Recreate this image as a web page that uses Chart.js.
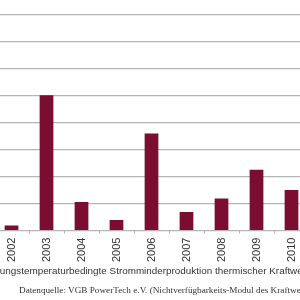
<!DOCTYPE html>
<html>
<head>
<meta charset="utf-8">
<script src="https://cdn.jsdelivr.net/npm/chart.js@4"></script>
<style>
  html, body { margin: 0; padding: 0; background: #fff; overflow: hidden; }
  body { width: 300px; height: 300px; position: relative; }
  #wrap { position: absolute; left: -6px; top: 0; width: 315px; height: 300px; }
  #caption {
    position: absolute; left: 0; top: 265px; white-space: nowrap; line-height: 12px;
    font-family: "Liberation Sans", Arial, sans-serif; font-size: 9.9px; color: #333;
  }
  #source {
    position: absolute; left: 19px; top: 285px; white-space: nowrap;
    font-family: "Liberation Serif", "DejaVu Serif", serif; font-size: 9.2px; color: #333;
  }
</style>
</head>
<body>
<div id="wrap"><canvas id="chart"></canvas></div>
<div id="caption"><span id="cut">Kühl</span>ungstemperaturbedingte Stromminderproduktion thermischer Kraftwerke</div>
<div id="source">Datenquelle: VGB PowerTech e.V. (Nichtverfügbarkeits-Modul des Kraftwerksinformationssystems)</div>
<script>
// Jahre und Minderproduktion (in Gitterschritten)
const years = ['2002', '2003', '2004', '2005', '2006', '2007', '2008', '2009', '2010'];
const values = [0.19, 5.02, 1.06, 0.39, 3.6, 0.69, 1.19, 2.26, 1.5];

const barColor = '#7b0d30';
const gridColor = '#b5b5b5';

// Bildunterschrift ist links abgeschnitten, wie im Original
const caption = document.getElementById('caption');
caption.style.left = -document.getElementById('cut').offsetWidth + 'px';

const ctx = document.getElementById('chart').getContext('2d');
new Chart(ctx, {
  type: 'bar',
  data: {
    labels: years,
    datasets: [{
      data: values,
      backgroundColor: barColor,
      borderWidth: 0,
      barPercentage: 0.8,
      categoryPercentage: 0.49
    }]
  },
  options: {
    responsive: true,
    maintainAspectRatio: false,
    animation: false,
    layout: { padding: { top: 15, bottom: 34, left: 0, right: 0 } },
    plugins: {
      legend: { display: false },
      tooltip: { enabled: false }
    },
    scales: {
      x: {
        grid: { drawOnChartArea: false, drawTicks: true, tickLength: 3, color: gridColor },
        border: { color: gridColor },
        ticks: {
          minRotation: 90, maxRotation: 90, padding: 4,
          color: '#333', font: { family: 'Liberation Sans', size: 11 }
        }
      },
      y: {
        min: 0, max: 8,
        grid: { color: gridColor, drawTicks: false, lineWidth: 1.2 },
        border: { display: false },
        ticks: { display: false, stepSize: 1 }
      }
    }
  }
});
</script>
</body>
</html>
